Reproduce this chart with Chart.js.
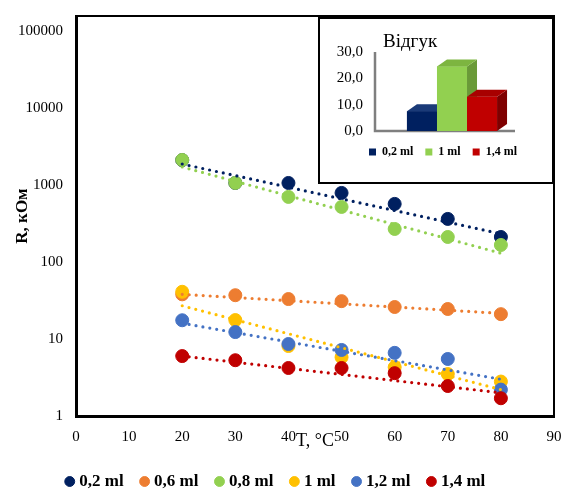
<!DOCTYPE html>
<html lang="uk">
<head>
<meta charset="UTF-8">
<title>R(T)</title>
<script src="https://cdn.jsdelivr.net/npm/chart.js"></script>
<style>
    body { margin: 0; background: #fff; }
    .wrap { position: relative; width: 565px; height: 491px; }
    #mainChart { position: absolute; left: 0; top: 0; }
    /* small response chart sitting over the top-right corner */
    .inset {
        position: absolute; left: 318px; top: 17px;
        width: 236px; height: 167px;
        box-sizing: border-box; border: 2px solid #000; background: #fff;
    }
    .inset canvas { display: block; }
</style>
</head>
<body>
<div class="wrap">
    <canvas id="mainChart" width="565" height="491"></canvas>
    <div class="inset"><canvas id="insetChart" width="232" height="163"></canvas></div>
</div>
<script>
// temperatures, °C
const temps = [20, 30, 40, 50, 60, 70, 80];

// resistance, kOhm
const r02 = [2100, 1060, 1060, 787, 567, 362, 211];
const r06 = [38, 37, 33, 31, 26, 24.5, 21];
const r08 = [2110, 1062, 699, 518, 268, 211, 166];
const r10 = [41, 17.6, 8.1, 5.8, 4.3, 3.5, 2.8];
const r12 = [17.5, 12.3, 8.6, 7.2, 6.6, 5.5, 2.2];
const r14 = [6.0, 5.3, 4.2, 4.2, 3.6, 2.45, 1.7];

// trendline ends at 20 and 80 °C
const trendT = [20, 80];
const trend02 = [1870, 232];
const trend06 = [38, 21.5];
const trend08 = [1710, 130];
const trend10 = [27, 2.2];
const trend12 = [16, 3.0];
const trend14 = [6.0, 2.0];

const seriesNames = ['0,2 ml', '0,6 ml', '0,8 ml', '1 ml', '1,2 ml', '1,4 ml'];
const yTicks = [1, 10, 100, 1000, 10000, 100000];

// response bars
const respNames = ['0,2 ml', '1 ml', '1,4 ml'];
const respValues = [7.5, 24.5, 13];

const serif = "'Liberation Serif', 'Times New Roman', serif";
Chart.defaults.font.family = serif;
Chart.defaults.color = '#000';

const colors = ['#002060', '#ED7D31', '#92D050', '#FFC000', '#4472C4', '#C00000'];
const values = [r02, r06, r08, r10, r12, r14];
const trends = [trend02, trend06, trend08, trend10, trend12, trend14];

const datasets = [];
values.forEach((vals, i) => {
    datasets.push({
        label: seriesNames[i],
        data: vals.map((v, k) => ({ x: temps[k], y: v })),
        backgroundColor: colors[i],
        borderColor: colors[i],
        pointRadius: 6.5,
        pointBorderWidth: 1,
        showLine: false,
        order: 6 - i
    });
});
trends.forEach((vals, i) => {
    datasets.push({
        label: seriesNames[i] + ' trend',
        isTrend: true,
        data: vals.map((v, k) => ({ x: trendT[k], y: v })),
        borderColor: colors[i],
        backgroundColor: colors[i],
        borderWidth: 3.2,
        borderDash: [0, 7],
        borderCapStyle: 'round',
        pointRadius: 0,
        showLine: true,
        order: 0
    });
});

// black box round the plot area
const framePlugin = {
    id: 'frame',
    beforeDatasetsDraw(chart) {
        const { ctx, chartArea: a } = chart;
        ctx.save();
        ctx.strokeStyle = '#000';
        ctx.lineWidth = 2;
        ctx.strokeRect(a.left, a.top, a.right - a.left, a.bottom - a.top);
        ctx.restore();
    }
};

new Chart(document.getElementById('mainChart'), {
    type: 'scatter',
    data: { datasets },
    options: {
        responsive: false,
        animation: false,
        layout: { padding: { top: 16, right: 11, left: 0, bottom: -9 } },
        scales: {
            x: {
                type: 'linear', min: 0, max: 90,
                ticks: { stepSize: 10, padding: 12, font: { size: 15 }, color: '#000' },
                grid: { display: false, drawTicks: false },
                border: { display: true, color: '#000', width: 3 },
                title: { display: true, text: 'T, °C', font: { size: 18 }, color: '#000', padding: { top: 0, bottom: 1 } },
                afterFit: s => { s.height = 37; s.paddingLeft = 0; s.paddingRight = 0; }
            },
            y: {
                type: 'logarithmic', min: 1, max: 156000,
                afterBuildTicks: s => { s.ticks = yTicks.map(v => ({ value: v })); },
                ticks: { padding: 13, font: { size: 15 }, color: '#000', callback: v => String(v) },
                grid: { display: false, drawTicks: false },
                border: { display: true, color: '#000', width: 3 },
                title: { display: true, text: 'R, кОм', font: { size: 17, weight: 'bold' }, color: '#000', padding: { top: 12 } },
                afterFit: s => { s.width = 76; s.paddingTop = 0; s.paddingBottom = 0; }
            }
        },
        plugins: {
            legend: {
                position: 'bottom',
                labels: {
                    usePointStyle: true, pointStyle: 'circle',
                    boxWidth: 2, boxHeight: 7, padding: 20,
                    font: { size: 17, weight: 'bold' }, color: '#000',
                    filter: (item, data) => !data.datasets[item.datasetIndex].isTrend,
                    sort: (a, b) => a.datasetIndex - b.datasetIndex
                }
            },
            tooltip: { enabled: false }
        }
    },
    plugins: [framePlugin]
});

// ---- inset: 3D-looking response columns ----
const frontCol = ['#002060', '#92D050', '#C00000'];
const sideCol = ['#001640', '#6A9A38', '#7E0000'];
const topCol = ['#1A3A78', '#7DB540', '#A80000'];
const depthX = 10, depthY = 7;

const wallPlugin = {
    id: 'wall',
    beforeDatasetsDraw(chart) {
        const { ctx, chartArea: a } = chart;
        ctx.save();
        ctx.strokeStyle = '#7F7F7F';
        ctx.lineWidth = 2.5;
        ctx.beginPath();
        ctx.moveTo(a.left, a.top);
        ctx.lineTo(a.left, a.bottom);
        ctx.lineTo(a.left + 140, a.bottom);
        ctx.stroke();
        ctx.restore();
    }
};

// redraw each column left to right with its side and top faces
const depthPlugin = {
    id: 'depth',
    afterDatasetsDraw(chart) {
        const ctx = chart.ctx;
        chart.data.datasets.forEach((ds, i) => {
            const bar = chart.getDatasetMeta(i).data[0];
            if (!bar) return;
            const { x, y, base, width } = bar.getProps(['x', 'y', 'base', 'width'], true);
            const l = x - width / 2, r = x + width / 2;
            ctx.save();
            ctx.fillStyle = frontCol[i];
            ctx.fillRect(l, y, width, base - y);
            ctx.fillStyle = sideCol[i];
            ctx.beginPath();
            ctx.moveTo(r, y); ctx.lineTo(r + depthX, y - depthY);
            ctx.lineTo(r + depthX, base - depthY); ctx.lineTo(r, base);
            ctx.closePath(); ctx.fill();
            ctx.fillStyle = topCol[i];
            ctx.beginPath();
            ctx.moveTo(l, y); ctx.lineTo(l + depthX, y - depthY);
            ctx.lineTo(r + depthX, y - depthY); ctx.lineTo(r, y);
            ctx.closePath(); ctx.fill();
            ctx.restore();
        });
    }
};

const insetTitle = {
    id: 'insetTitle',
    afterDraw(chart) {
        const ctx = chart.ctx;
        ctx.save();
        ctx.font = '19px ' + serif;
        ctx.fillStyle = '#000';
        ctx.textAlign = 'left';
        ctx.textBaseline = 'middle';
        ctx.fillText('Відгук', chart.chartArea.left + 8, 23);
        ctx.restore();
    }
};

new Chart(document.getElementById('insetChart'), {
    type: 'bar',
    data: {
        labels: [''],
        datasets: respNames.map((name, i) => ({
            label: name,
            data: [respValues[i]],
            backgroundColor: frontCol[i],
            borderWidth: 0,
            categoryPercentage: 0.585,
            barPercentage: 1
        }))
    },
    options: {
        responsive: false,
        animation: false,
        layout: { padding: { top: 33, right: 23, left: 0, bottom: 14 } },
        scales: {
            x: {
                ticks: { display: false },
                grid: { display: false, drawTicks: false },
                border: { display: false },
                afterFit: s => { s.height = 3; }
            },
            y: {
                min: 0, max: 30,
                ticks: {
                    stepSize: 10, padding: 12, font: { size: 15 }, color: '#000',
                    callback: v => v.toFixed(1).replace('.', ',')
                },
                grid: { display: false, drawTicks: false },
                border: { display: false },
                afterFit: s => { s.width = 55; }
            }
        },
        plugins: {
            legend: {
                position: 'bottom',
                align: 'end',
                labels: {
                    boxWidth: 7, boxHeight: 7, padding: 12,
                    font: { size: 12, weight: 'bold' }, color: '#000',
                    sort: (a, b) => a.datasetIndex - b.datasetIndex
                }
            },
            tooltip: { enabled: false }
        }
    },
    plugins: [wallPlugin, depthPlugin, insetTitle]
});
</script>
</body>
</html>
